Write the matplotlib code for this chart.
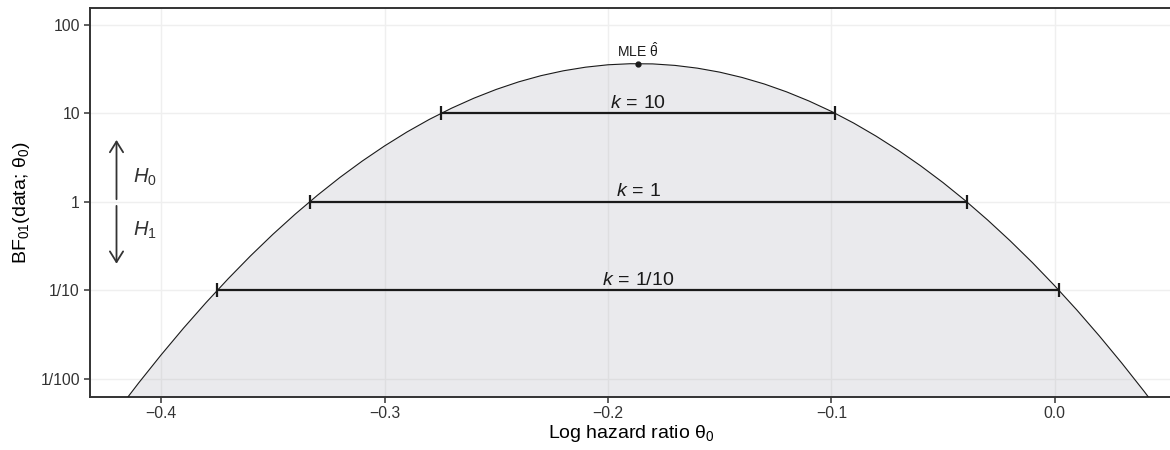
import numpy as np
import matplotlib
matplotlib.use("Agg")
import matplotlib.pyplot as plt
from matplotlib.ticker import NullLocator

plt.rcParams['font.family'] = ['Liberation Sans', 'DejaVu Sans']
plt.rcParams['mathtext.fontset'] = 'custom'
plt.rcParams['mathtext.rm'] = 'Liberation Sans'
plt.rcParams['mathtext.it'] = 'Liberation Sans:italic'
plt.rcParams['mathtext.bf'] = 'Liberation Sans:bold'

# Bayes factor function (log10 BF01 per theta0)
theta = [-0.44, -0.43, -0.42, -0.41, -0.40, -0.39, -0.38, -0.37, -0.36, -0.35,
         -0.34, -0.33, -0.32, -0.31, -0.30, -0.29, -0.28, -0.27, -0.26, -0.25,
         -0.24, -0.23, -0.22, -0.21, -0.20, -0.19, -0.18, -0.17, -0.16, -0.15,
         -0.14, -0.13, -0.12, -0.11, -0.10, -0.09, -0.08, -0.07, -0.06, -0.05,
         -0.04, -0.03, -0.02, -0.01, 0.00, 0.01, 0.02, 0.03, 0.04, 0.05, 0.06]
log_bf = [-3.073, -2.715, -2.371, -2.042, -1.727, -1.426, -1.140, -0.868, -0.610, -0.367,
          -0.139, 0.075, 0.275, 0.460, 0.631, 0.788, 0.930, 1.057, 1.170, 1.269,
          1.354, 1.424, 1.479, 1.520, 1.547, 1.559, 1.557, 1.540, 1.509, 1.464,
          1.404, 1.330, 1.241, 1.138, 1.021, 0.889, 0.742, 0.581, 0.406, 0.217,
          0.013, -0.206, -0.439, -0.686, -0.948, -1.224, -1.515, -1.820, -2.139, -2.473, -2.821]

# support intervals
k_levels = [10, 1, 0.1]
k_labels = [r'$k\,=\,10$', r'$k\,=\,1$', r'$k\,=\,1/10$']
k_lower = [-0.2748, -0.3336, -0.3749]
k_upper = [-0.0982, -0.0392, 0.0021]

mle_theta = -0.1867
mle_log_bf = 1.553

y_ticks = [0.01, 0.1, 1, 10, 100]
y_ticklabels = ['1/100', '1/10', '1', '10', '100']
x_ticks = [-0.4, -0.3, -0.2, -0.1, 0.0]
x_ticklabels = ['\u22120.4', '\u22120.3', '\u22120.2', '\u22120.1', '0.0']

bf = 10 ** np.array(log_bf)

fig = plt.figure(figsize=(11.7, 4.5), dpi=100)
ax = fig.add_axes([89.7 / 1170, 1 - 396.7 / 450, (1172 - 89.7) / 1170, (396.7 - 8) / 450])

ax.set_yscale('log')
ax.set_xlim(-0.432, 0.0525)
ax.set_ylim(10 ** -2.2, 10 ** 2.188)

ax.set_axisbelow(True)
ax.grid(True, color='#efefef', lw=1.0)

ax.fill_between(theta, bf, 1e-5, color='#9a9aa8', alpha=0.2, lw=0, zorder=2)
ax.plot(theta, bf, color='#1a1a1a', lw=0.8, zorder=3)

for lev, lab, lo, hi in zip(k_levels, k_labels, k_lower, k_upper):
    ax.plot([lo, hi], [lev, lev], color='#1a1a1a', lw=1.6, zorder=4,
            marker='|', ms=9.5, mew=1.6, solid_capstyle='butt')
    ax.annotate(lab, xy=((lo + hi) / 2, lev), xytext=(0, 4), textcoords='offset points',
                ha='center', va='baseline', fontsize=14, color='#1a1a1a', zorder=5)

ax.plot(mle_theta, 10 ** mle_log_bf, 'o', color='#1a1a1a', ms=3.5, zorder=5)
ax.annotate(r'MLE $\mathrm{\hat{\theta}}$', xy=(mle_theta, 10 ** mle_log_bf), xytext=(0, 3),
            textcoords='offset points', ha='center', va='bottom', fontsize=10, color='#1a1a1a')

arrow = dict(arrowstyle='->,head_length=0.45,head_width=0.28', lw=1.3, color='#333333',
             mutation_scale=17, shrinkA=0, shrinkB=0)
ax.annotate('', xy=(-0.42, 5), xytext=(-0.42, 1.07), arrowprops=arrow)
ax.annotate('', xy=(-0.42, 0.2), xytext=(-0.42, 0.9), arrowprops=arrow)
ax.text(-0.4128, 1.9, '$H_0$', ha='left', va='center', fontsize=14.5, color='#333333')
ax.text(-0.4128, 0.48, '$H_1$', ha='left', va='center', fontsize=14.5, color='#333333')

ax.set_yticks(y_ticks, y_ticklabels)
ax.yaxis.set_minor_locator(NullLocator())
ax.set_xticks(x_ticks, x_ticklabels)
ax.tick_params(axis='both', length=4, width=1.1, color='#333333', labelsize=11.3,
               labelcolor='#333333', pad=3)

for s in ax.spines.values():
    s.set_linewidth(1.4)
    s.set_color('#333333')

ax.set_xlabel(r'Log hazard ratio $\mathrm{\theta_0}$', fontsize=14, labelpad=1)
ax.set_ylabel(r'BF$_{01}$(data; $\mathrm{\theta_0}$)', fontsize=14, labelpad=6)

fig.savefig('out.png', dpi=100)
